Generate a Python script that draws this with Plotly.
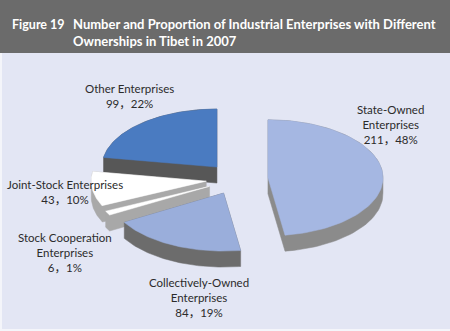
import numpy as np
import plotly.graph_objects as go

# Enterprise counts by ownership type, Tibet 2007 (clockwise from 12 o'clock)
categories = [
    "State-Owned Enterprises",
    "Collectively-Owned Enterprises",
    "Stock Cooperation Enterprises",
    "Joint-Stock Enterprises",
    "Other Enterprises",
]
counts = [211, 84, 6, 43, 99]
percent_labels = ["48%", "19%", "1%", "10%", "22%"]
label_text = [
    "State-Owned<br>Enterprises",
    "Collectively-Owned<br>Enterprises",
    "Stock Cooperation<br>Enterprises",
    "Joint-Stock Enterprises",
    "Other Enterprises",
]

top_colors = ["#a5b7e2", "#9aaedb", "#ffffff", "#ffffff", "#4a7bc1"]
side_colors = ["#8b8b8b", "#6c6c6c", "#a8a8a8", "#a9a9a9", "#575757"]

# label anchor points (canvas pixels)
label_pos = [(390, 124), (199, 297), (65, 252), (65, 192), (129, 96)]

W, H = 450, 331
CX, CY = 237, 179       # pie centre
RX, RY = 115, 58        # ellipse radii of the tilted top face
DEPTH = 16              # extrusion height
EXPLODE = 0.27          # offset of each slice as fraction of radius

FONT = "Lato, Roboto, Noto Sans CJK SC, sans-serif"


def hull(pts):
    pts = sorted(set(pts))
    def cross(o, a, b):
        return (a[0] - o[0]) * (b[1] - o[1]) - (a[1] - o[1]) * (b[0] - o[0])
    lower, upper = [], []
    for p in pts:
        while len(lower) >= 2 and cross(lower[-2], lower[-1], p) <= 0:
            lower.pop()
        lower.append(p)
    for p in reversed(pts):
        while len(upper) >= 2 and cross(upper[-2], upper[-1], p) <= 0:
            upper.pop()
        upper.append(p)
    return lower[:-1] + upper[:-1]


values = np.array(counts, dtype=float)
fracs = values / values.sum()
ends = np.cumsum(fracs) * 2 * np.pi
starts = ends - fracs * 2 * np.pi

slices = []
for i in range(len(values)):
    mid = (starts[i] + ends[i]) / 2
    cx = CX + EXPLODE * RX * np.sin(mid)
    cy = CY - EXPLODE * RY * np.cos(mid)
    th = np.linspace(starts[i], ends[i], 80)
    xs = np.concatenate([[cx], cx + RX * np.sin(th), [cx]])
    ys = np.concatenate([[cy], cy - RY * np.cos(th), [cy]])
    slices.append((cy, i, xs, ys))

fig = go.Figure()

# header band and panel background
shapes = [
    dict(type="rect", x0=0, x1=W, y0=0, y1=53, fillcolor="#6b6b6b", line_width=0, layer="below"),
    dict(type="rect", x0=2, x1=W, y0=53, y1=329, fillcolor="#e3e6f4", line_width=0, layer="below"),
]

# draw slices back to front
for cy, i, xs, ys in sorted(slices, key=lambda s: s[0]):
    pts = [(float(x), float(y)) for x, y in zip(xs, ys)]
    pts += [(x, y + DEPTH) for x, y in pts]
    h = hull(pts)
    hx = [p[0] for p in h] + [h[0][0]]
    hy = [p[1] for p in h] + [h[0][1]]
    fig.add_trace(go.Scatter(
        x=hx, y=hy, mode="lines", fill="toself",
        fillcolor=side_colors[i], line=dict(color=side_colors[i], width=0.5),
        hoverinfo="skip", showlegend=False,
    ))
    fig.add_trace(go.Scatter(
        x=xs, y=ys, mode="lines", fill="toself",
        fillcolor=top_colors[i], line=dict(color=top_colors[i], width=0.5),
        name=categories[i], text=f"{counts[i]}，{percent_labels[i]}",
        hoverinfo="name+text", showlegend=False,
    ))

annotations = []
for i, (lx, ly) in enumerate(label_pos):
    annotations.append(dict(
        x=lx, y=ly, xref="x", yref="y", showarrow=False,
        text=f"{label_text[i]}<br>{counts[i]}，{percent_labels[i]}",
        font=dict(family=FONT, size=11.5, color="#2b2b2b"), align="center",
    ))

annotations.append(dict(
    x=10, y=24, xref="x", yref="y", xanchor="left", showarrow=False,
    text="<b>Figure 19</b>", font=dict(family=FONT, size=12.5, color="white"),
))
annotations.append(dict(
    x=71, y=32, xref="x", yref="y", xanchor="left", showarrow=False, align="left",
    text="<b>Number and Proportion of Industrial Enterprises with Different<br>Ownerships in Tibet in 2007</b>",
    font=dict(family=FONT, size=13, color="white"),
))

fig.update_layout(
    width=W, height=H,
    margin=dict(l=0, r=0, t=0, b=0),
    paper_bgcolor="#f4f5fa", plot_bgcolor="rgba(0,0,0,0)",
    xaxis=dict(range=[0, W], visible=False, fixedrange=True),
    yaxis=dict(range=[H, 0], visible=False, fixedrange=True),
    shapes=shapes, annotations=annotations,
)

fig.write_html("out.html")
